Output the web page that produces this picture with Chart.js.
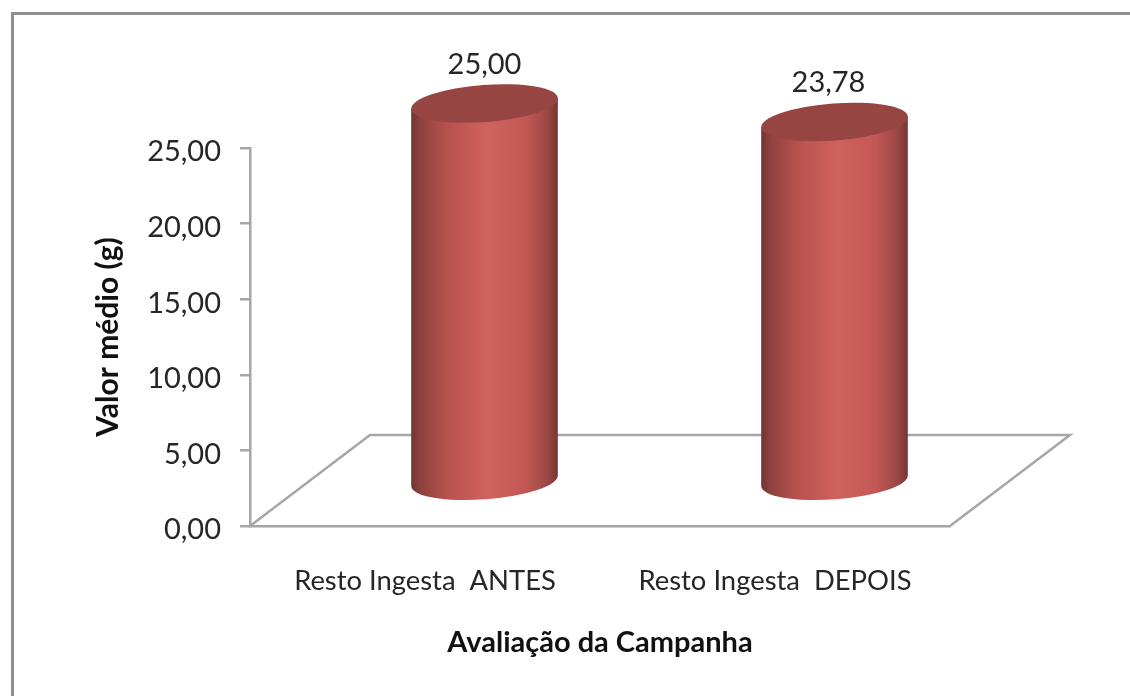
<!DOCTYPE html>
<html>
<head>
<meta charset="utf-8">
<title>Valor médio</title>
<script src="https://cdn.jsdelivr.net/npm/chart.js@4"></script>
<style>
    html, body { margin: 0; padding: 0; background: #fff; overflow: hidden; }
    #moldura {
        position: absolute; left: 11px; top: 12px; width: 1130px; height: 700px;
        border-top: 3px solid #8f8f8f; border-left: 3px solid #8f8f8f;
    }
    #grafico { position: absolute; left: 0; top: 0; }
</style>
</head>
<body>
<div id="moldura"></div>
<canvas id="grafico" width="1130" height="696"></canvas>
<script>
const categorias = ['Resto Ingesta  ANTES', 'Resto Ingesta  DEPOIS'];
const valores = [25.00, 23.78];
const tituloX = 'Avaliação da Campanha';
const tituloY = 'Valor médio (g)';

const corEixo = '#a6a6a6';
const corTexto = '#262626';
const fonte = 'Lato, "Open Sans", sans-serif';

// profundidade do chão 3D
const fundoX = 120;
const fundoY = 91;

const formatar = v => v.toFixed(2).replace('.', ',');

// Chão em perspectiva, atrás das barras
const chao3d = {
    id: 'chao3d',
    beforeDatasetsDraw(chart) {
        const { ctx, chartArea: a } = chart;
        ctx.save();
        ctx.strokeStyle = corEixo;
        ctx.lineWidth = 2.5;
        ctx.beginPath();
        ctx.moveTo(a.left, a.bottom);
        ctx.lineTo(a.left + fundoX, a.bottom - fundoY);
        ctx.lineTo(a.right + fundoX, a.bottom - fundoY);
        ctx.lineTo(a.right, a.bottom);
        ctx.stroke();
        ctx.restore();
    }
};

// Cilindros desenhados a partir das barras do próprio Chart.js
const cilindros = {
    id: 'cilindros',
    afterDatasetsDraw(chart) {
        const { ctx } = chart;
        const inclinacao = -0.075;
        const ry = 18.5;
        chart.getDatasetMeta(0).data.forEach((barra, i) => {
            const cx = barra.x + fundoX / 2 - 0.5;
            const rx = barra.width / 2;
            const topo = barra.y - 44.5;
            const base = barra.base - 44;
            const dx = rx * Math.cos(inclinacao);
            const dy = rx * Math.sin(inclinacao);

            const grad = ctx.createLinearGradient(cx - rx, 0, cx + rx, 0);
            grad.addColorStop(0, '#703331');
            grad.addColorStop(0.06, '#8c413e');
            grad.addColorStop(0.25, '#b8524f');
            grad.addColorStop(0.52, '#d0615e');
            grad.addColorStop(0.78, '#c25855');
            grad.addColorStop(0.93, '#9a4744');
            grad.addColorStop(1, '#743432');

            ctx.save();
            ctx.fillStyle = grad;
            ctx.beginPath();
            ctx.moveTo(cx - dx, topo - dy);
            ctx.lineTo(cx - dx, base - dy);
            ctx.ellipse(cx, base, rx, ry, inclinacao, Math.PI, 0, true);
            ctx.lineTo(cx + dx, topo + dy);
            ctx.closePath();
            ctx.fill();

            ctx.fillStyle = '#964542';
            ctx.beginPath();
            ctx.ellipse(cx, topo, rx, ry, inclinacao, 0, Math.PI * 2);
            ctx.fill();

            ctx.fillStyle = corTexto;
            ctx.font = '29px ' + fonte;
            ctx.textAlign = 'center';
            ctx.textBaseline = 'middle';
            ctx.fillText(formatar(valores[i]), cx - (i === 1 ? 6 : 0), topo - 39);
            ctx.restore();
        });
    }
};

new Chart(document.getElementById('grafico').getContext('2d'), {
    type: 'bar',
    data: {
        labels: categorias,
        datasets: [{
            data: valores,
            backgroundColor: 'rgba(0,0,0,0)',
            borderWidth: 0,
            categoryPercentage: 1,
            barPercentage: 0.42
        }]
    },
    options: {
        responsive: false,
        animation: false,
        layout: { padding: { top: 148, right: 180, left: 0, bottom: 0 } },
        plugins: {
            legend: { display: false },
            tooltip: { enabled: false }
        },
        scales: {
            x: {
                afterFit: s => { s.height = 170; },
                grid: { display: false },
                border: { color: corEixo, width: 2.5 },
                ticks: { color: corTexto, font: { family: fonte, size: 27.4 }, padding: 31, maxRotation: 0 },
                title: {
                    display: true,
                    text: tituloX,
                    color: '#111',
                    font: { family: fonte, size: 29, weight: 'bold' },
                    padding: { top: 0, bottom: 36 }
                }
            },
            y: {
                min: 0,
                max: 25,
                afterFit: s => { s.width = 250; },
                grid: { drawOnChartArea: false, color: corEixo, lineWidth: 2.5, tickLength: 10 },
                border: { color: corEixo, width: 2.5 },
                ticks: {
                    stepSize: 5,
                    color: corTexto,
                    font: { family: fonte, size: 29 },
                    padding: 19,
                    labelOffset: 4,
                    callback: v => formatar(v)
                },
                title: {
                    display: true,
                    text: tituloY,
                    color: '#111',
                    font: { family: fonte, size: 30, weight: 'bold' },
                    padding: { top: 90, bottom: 0 }
                }
            }
        }
    },
    plugins: [chao3d, cilindros]
});
</script>
</body>
</html>
